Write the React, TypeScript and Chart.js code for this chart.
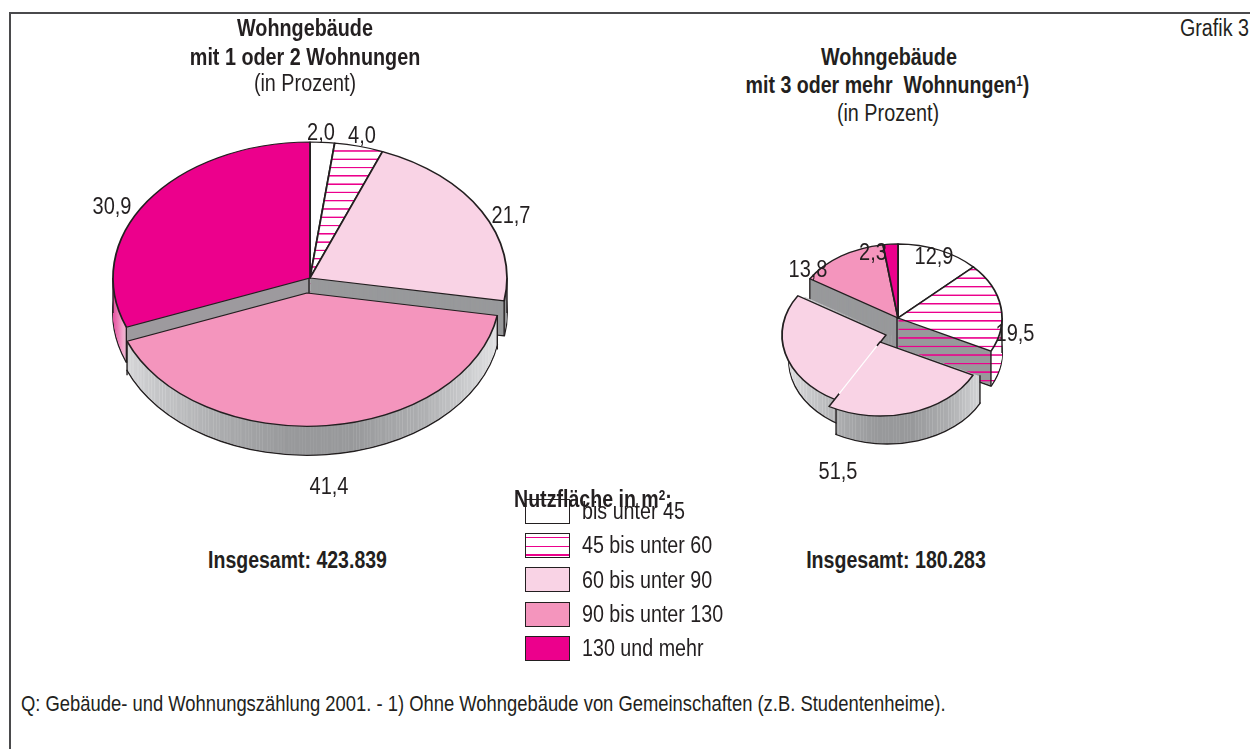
import React, { useEffect, useRef } from "react";
import { Chart, PieController, ArcElement } from "chart.js";

Chart.register(PieController, ArcElement);

// ---- data ----
const categories = ["bis unter 45", "45 bis unter 60", "60 bis unter 90", "90 bis unter 130", "130 und mehr"];
const smallBuildings = [2.0, 4.0, 21.7, 41.4, 30.9];
const largeBuildings = [12.9, 19.5, 51.5, 13.8, 2.3];

// ---- style ----
const FONT = '"Liberation Sans", Arial, sans-serif';
const INK = "#231f20";
const MAGENTA = "#ec008c";
const WALL = "#98999b";
const TEXT_STRETCH = 1.18;
const sliceColors = ["#ffffff", "hatch", "#f9d3e5", "#f495bd", "#ec008c"];
const fmt = (v: number) => v.toFixed(1).replace(".", ",");

type Piece = { from: number; to: number; dx: number; dy: number; scale: number; wallDx: number; depth: number; tail?: number; noEnd?: boolean };
type Layout = {
  cx: number; cy: number; r: number; k: number; depth: number; size: number;
  front: Record<number, Piece[]>;
  walls: Record<number, [number, string][]>;
  hatchWallCut?: number;
  labels: [number, number][];
  seam?: boolean;
};

const rimStops: [number, string][] = [
  [0, "#dcdcde"], [0.12, "#c4c5c7"], [0.3, "#a8a9ab"], [0.45, "#98999b"], [0.62, "#98999b"],
  [0.8, "#aeafb1"], [0.93, "#cfd0d2"], [1, "#e2e2e4"],
];

const leftLayout: Layout = {
  cx: 310, cy: 278, r: 197, k: 136 / 197, depth: 35, size: 500,
  front: { 3: [{ from: 0, to: 1, dx: -3, dy: 15, scale: 0.98, wallDx: 0, depth: 29, tail: 34 }] },
  walls: { 4: [[0, "#e4509f"], [0.025, "#f3a9cd"], [0.036, "#e8c0d4"], [0.037, "#9d9a9e"], [1, "#9d9a9e"]] },
  labels: [[321, 133], [362, 136], [511, 216], [329, 487], [112, 207]],
};

const rightLayout: Layout = {
  cx: 898, cy: 318, r: 104, k: 74 / 104, depth: 35, size: 340,
  front: {
    2: [
      { from: 0.5, to: 1, dx: -12, dy: 17, scale: 1, wallDx: 7, depth: 26, noEnd: true },
      { from: 0, to: 0.5, dx: -18, dy: 24, scale: 1, wallDx: 7, depth: 28 },
    ],
  },
  walls: {},
  hatchWallCut: 991,
  labels: [[934, 257], [1015, 334], [838, 472], [808, 270], [873, 253]],
  seam: true,
};

function hatchPattern(ctx: CanvasRenderingContext2D, cutX: number | null, width: number) {
  const c = document.createElement("canvas");
  c.width = cutX === null ? 4 : width;
  c.height = 12;
  const g = c.getContext("2d")!;
  g.fillStyle = "#ffffff";
  g.fillRect(0, 0, c.width, 12);
  if (cutX !== null) {
    g.fillStyle = WALL;
    g.fillRect(0, 0, cutX, 12);
  }
  g.fillStyle = MAGENTA;
  g.fillRect(0, 5, c.width, 2);
  return ctx.createPattern(c, "repeat")!;
}

// rim texture: the shaded band with fine upright streaks, as in the printed 3D pie
function rimPattern(ctx: CanvasRenderingContext2D, width: number, ox: number, r: number) {
  const c = document.createElement("canvas");
  c.width = width;
  c.height = 2;
  const g = c.getContext("2d")!;
  const grad = g.createLinearGradient(ox - r, 0, ox + r, 0);
  rimStops.forEach(([t, col]) => grad.addColorStop(t, col));
  g.fillStyle = grad;
  g.fillRect(0, 0, width, 2);
  for (let x = 0; x < width; x++) {
    if ((x * 37) % 11 < 3) {
      const edge = Math.abs(x - ox) / r;
      g.fillStyle = `rgba(255,255,255,${0.06 + 0.16 * Math.min(edge, 1)})`;
      g.fillRect(x, 0, 1, 2);
    }
  }
  return ctx.createPattern(c, "repeat")!;
}

function faceOptions(backgroundColor: any, borderWidth: number) {
  return {
    offset: 0, spacing: 0, circular: true, borderAlign: "center", borderRadius: 0,
    borderJoinStyle: "round", borderColor: INK, borderWidth, backgroundColor,
  };
}

function pie3dPlugin(layout: Layout) {
  return {
    id: "pie3d",
    beforeDatasetDraw(chart: any) {
      const ctx: CanvasRenderingContext2D = chart.ctx;
      const arcs: any[] = chart.getDatasetMeta(0).data;
      const { k, depth, r } = layout;
      const ox = arcs[0].x;
      const oy = arcs[0].y;
      const page0 = layout.cx - ox;

      const facePattern = hatchPattern(ctx, null, 4);
      const wallPattern = hatchPattern(ctx, layout.hatchWallCut != null ? layout.hatchWallCut - page0 : 0, chart.width);
      const rim = rimPattern(ctx, chart.width, ox, r);

      const clone = (arc: any, p: Piece, options: any) => {
        const span = arc.endAngle - arc.startAngle;
        const startAngle = arc.startAngle + span * p.from;
        const endAngle = arc.startAngle + span * p.to;
        return new (ArcElement as any)({
          x: ox, y: oy, innerRadius: 0, outerRadius: r, startAngle, endAngle,
          circumference: endAngle - startAngle, options,
        });
      };
      const place = (p: Piece, x: number, y: number) => {
        ctx.translate(ox + p.dx + x, oy + p.dy + y);
        ctx.scale(p.scale, p.scale * k);
        ctx.translate(-ox, -oy);
      };
      const wallFill = (i: number, isFront: boolean) => {
        if (i === 1 && !isFront) return wallPattern;
        if (isFront) return rim;
        const stops = layout.walls[i];
        if (!stops) return WALL;
        const g = ctx.createLinearGradient(ox - r, 0, ox + r, 0);
        stops.forEach(([t, c]) => g.addColorStop(t, c));
        return g;
      };
      // all slices of a group are stacked layer by layer, so that only the true
      // silhouette of the deepest outline stays visible
      const drawWalls = (items: number[], p: Piece, isFront: boolean) => {
        const fills = items.map((i) => wallFill(i, isFront));
        for (let d = p.depth; d >= 1; d--) {
          items.forEach((i, n) => {
            ctx.save();
            place(p, p.wallDx, d);
            if (fills[n] === wallPattern) {
              wallPattern.setTransform(new DOMMatrix().translate(0, -d / k));
            }
            clone(arcs[i], p, faceOptions(fills[n], d === p.depth ? 1.8 : 0)).draw(ctx);
            ctx.restore();
          });
        }
        wallPattern.setTransform(new DOMMatrix());
        // upright edges of the wall
        items.forEach((i) => {
          const arc = arcs[i];
          const span = arc.endAngle - arc.startAngle;
          const a0 = arc.startAngle + span * p.from;
          const a1 = arc.startAngle + span * p.to;
          const angles = p.noEnd ? [] : [a0, a1];
          [Math.PI, 2 * Math.PI, 0].forEach((a) => { if (a > a0 && a < a1) angles.push(a); });
          ctx.save();
          ctx.strokeStyle = INK;
          ctx.lineWidth = 1.4;
          angles.forEach((a) => {
            const x = ox + p.dx + p.wallDx + p.scale * r * Math.cos(a);
            const y = oy + p.dy + p.scale * k * r * Math.sin(a);
            ctx.beginPath();
            ctx.moveTo(x, y);
            ctx.lineTo(x, y + (a === a0 || a === a1 ? p.tail ?? p.depth : p.depth));
            ctx.stroke();
          });
          ctx.restore();
        });
      };
      const drawFace = (i: number, p: Piece) => {
        const color = sliceColors[i] === "hatch" ? facePattern : sliceColors[i];
        ctx.save();
        place(p, 0, 0);
        clone(arcs[i], p, faceOptions(color, 1.8)).draw(ctx);
        ctx.restore();
      };

      const whole: Piece = { from: 0, to: 1, dx: 0, dy: 0, scale: 1, wallDx: 0, depth };
      const order = arcs.map((_, i) => i);
      const back = order.filter((i) => !layout.front[i]);
      const front = order.filter((i) => layout.front[i]);
      drawWalls(back, whole, false);
      back.forEach((i) => drawFace(i, whole));
      front.forEach((i) => layout.front[i].forEach((p) => drawWalls([i], p, true)));
      // upright line under the pie's centre, between the two cut faces
      ctx.save();
      ctx.strokeStyle = INK;
      ctx.lineWidth = 1.4;
      ctx.beginPath();
      ctx.moveTo(ox - 1, oy);
      ctx.lineTo(ox - 1, oy + depth);
      ctx.stroke();
      ctx.restore();
      front.forEach((i) => layout.front[i].forEach((p) => drawFace(i, p)));

      if (layout.seam) {
        // the split sector shows a pale seam instead of a dark line
        const i = front[0];
        const arc = arcs[i];
        const p = layout.front[i][1];
        const mid = (arc.startAngle + arc.endAngle) / 2;
        const sx = ox + p.dx + 0.06 * r * Math.cos(mid);
        const sy = oy + p.dy + 0.06 * k * r * Math.sin(mid);
        const ex = ox + p.dx + 0.8 * r * Math.cos(mid);
        const ey = oy + p.dy + 0.8 * k * r * Math.sin(mid);
        ctx.save();
        ctx.beginPath();
        ctx.moveTo(sx, sy);
        ctx.lineTo(ex, ey);
        ctx.strokeStyle = sliceColors[2];
        ctx.lineWidth = 3.5;
        ctx.stroke();
        ctx.strokeStyle = "#ffffff";
        ctx.lineWidth = 1.2;
        ctx.stroke();
        ctx.restore();
      }

      // value labels
      const values: number[] = chart.data.datasets[0].data;
      values.forEach((v, i) => {
        const [lx, ly] = layout.labels[i];
        ctx.save();
        ctx.translate(lx - layout.cx + ox, ly - layout.cy + oy);
        ctx.scale(1, TEXT_STRETCH);
        ctx.font = `20px ${FONT}`;
        ctx.fillStyle = INK;
        ctx.textAlign = "center";
        ctx.textBaseline = "middle";
        ctx.fillText(fmt(v), 0, 0);
        ctx.restore();
      });
      return false;
    },
  };
}

function Pie({ values, layout, label }: { values: number[]; layout: Layout; label: string }) {
  const ref = useRef<HTMLCanvasElement>(null);
  useEffect(() => {
    const chart = new Chart(ref.current!, {
      type: "pie",
      data: { labels: categories, datasets: [{ label, data: values, backgroundColor: sliceColors }] },
      options: {
        responsive: false,
        animation: false,
        radius: layout.r,
        events: [],
        plugins: { legend: { display: false }, tooltip: { enabled: false } },
      } as any,
      plugins: [pie3dPlugin(layout) as any],
    });
    return () => chart.destroy();
  }, []);
  return (
    <canvas
      ref={ref}
      width={layout.size}
      height={layout.size}
      style={{
        position: "absolute",
        left: layout.cx - layout.size / 2,
        top: layout.cy - layout.size / 2,
        width: layout.size,
        height: layout.size,
      }}
    />
  );
}

function T({ x, y, children, bold, align = "center", size = 19.8, z }: any) {
  return (
    <div
      style={{
        position: "absolute",
        left: x,
        top: y + 1,
        transform: `translate(${align === "center" ? "-50%" : "0"}, -50%) scaleY(${TEXT_STRETCH})`,
        font: `${bold ? "bold " : ""}${size}px ${FONT}`,
        color: INK,
        whiteSpace: "pre",
        lineHeight: 1,
        zIndex: z,
      }}
    >
      {children}
    </div>
  );
}

const sup: React.CSSProperties = { fontSize: "0.6em", verticalAlign: "0.55em", lineHeight: 0 };
const legendY = [511, 545, 579.5, 614, 648];
const legendFill = [
  "#ffffff",
  `repeating-linear-gradient(to bottom, #ffffff 0, #ffffff 3px, ${MAGENTA} 3px, ${MAGENTA} 4.4px, #ffffff 4.4px, #ffffff 8.6px)`,
  sliceColors[2],
  sliceColors[3],
  sliceColors[4],
];

export default function App() {
  useEffect(() => {
    document.body.style.margin = "0";
    document.body.style.overflow = "hidden";
    document.body.style.background = "#ffffff";
  }, []);
  return (
    <div style={{ position: "relative", width: 1250, height: 749, overflow: "hidden", background: "#fff" }}>
      <div style={{ position: "absolute", left: 9, top: 12, width: 1300, height: 800, border: "2px solid #4a4a4c", boxSizing: "border-box" }} />
      <Pie values={smallBuildings} layout={leftLayout} label="Wohngebäude mit 1 oder 2 Wohnungen" />
      <Pie values={largeBuildings} layout={rightLayout} label="Wohngebäude mit 3 oder mehr Wohnungen" />

      <T x={305} y={28} bold>Wohngebäude</T>
      <T x={305} y={57} bold>mit 1 oder 2 Wohnungen</T>
      <T x={305} y={83}>(in Prozent)</T>

      <T x={889} y={57} bold>Wohngebäude</T>
      <T x={887.5} y={85} bold size={19.6}>mit 3 oder mehr  Wohnungen<span style={sup}>1</span>)</T>
      <T x={888} y={113}>(in Prozent)</T>

      <T x={1180} y={28} align="left" size={19.7}>Grafik 3</T>
      <T x={297.5} y={560} bold size={19.5}>Insgesamt: 423.839</T>
      <T x={896} y={560} bold size={19.6}>Insgesamt: 180.283</T>

      {categories.map((c, i) => (
        <React.Fragment key={c}>
          <div
            style={{
              position: "absolute", left: 525, top: legendY[i] - 12.5, width: 45, height: 25,
              boxSizing: "border-box", border: `1.5px solid ${INK}`, background: legendFill[i],
            }}
          />
          <T x={582} y={legendY[i]} align="left" size={19.7}>{c}</T>
        </React.Fragment>
      ))}
      <T x={514} y={499} align="left" bold size={19.6} z={2}>Nutzfläche in m<span style={sup}>2</span>:</T>

      <T x={21} y={703} align="left" size={18.4}>Q: Gebäude- und Wohnungszählung 2001. - 1) Ohne Wohngebäude von Gemeinschaften (z.B. Studentenheime).</T>
    </div>
  );
}
